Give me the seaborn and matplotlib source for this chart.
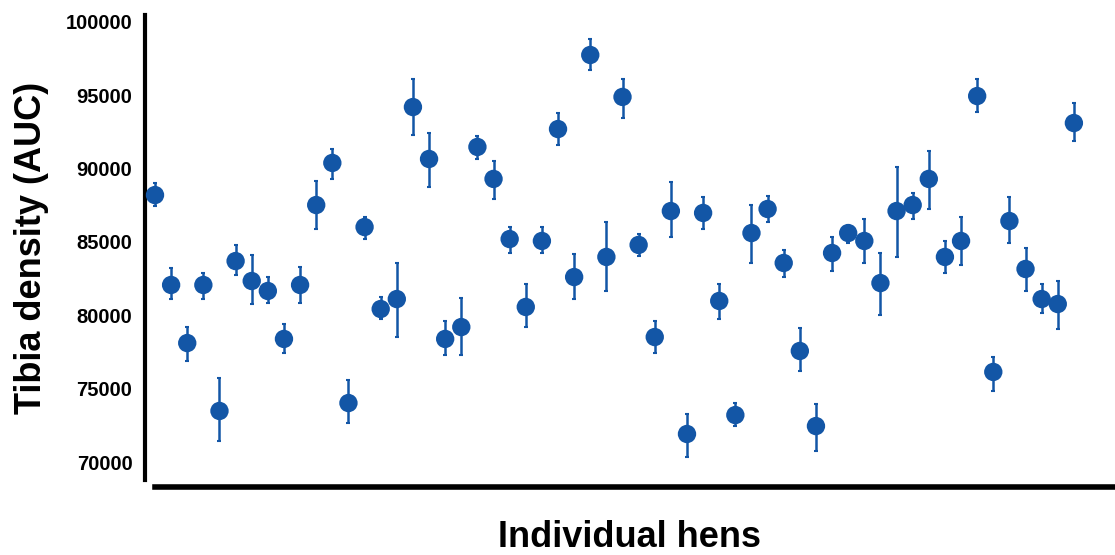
import numpy as np
import pandas as pd
import seaborn as sns
import matplotlib.pyplot as plt

# mean tibia density (AUC) per hen, with lower / upper end of the error bar
density_mean = [88200, 82070, 78110, 82070, 73480, 83700, 82340, 81660, 78390, 82070,
                87520, 90390, 74020, 86020, 80430, 81110, 94200, 90660, 78390, 79200,
                91480, 89300, 85200, 80570, 85070, 92700, 82610, 97750, 83980, 94890,
                84800, 78520, 87110, 71910, 86980, 80980, 73200, 85610, 87250, 83570,
                77570, 72450, 84250, 85610, 85070, 82200, 87110, 87520, 89300, 83980,
                85070, 94950, 76140, 86430, 83160, 81110, 80770, 93110]
density_low = [87450, 81110, 76890, 81110, 71430, 82750, 80770, 80840, 77430, 80840,
               85890, 89300, 72660, 85200, 79750, 78520, 92300, 88750, 77300, 77300,
               90660, 87930, 84250, 79200, 84250, 91610, 81110, 96730, 81660, 93450,
               84050, 77430, 85340, 70340, 85890, 79750, 72450, 83570, 86360, 82610,
               76200, 70750, 83020, 84930, 83570, 80020, 83980, 86570, 87250, 82890,
               83430, 93860, 74840, 84930, 81660, 80160, 79070, 91890]
density_high = [89020, 83230, 79200, 82890, 75730, 84800, 84110, 82610, 79410, 83300,
                89160, 91340, 75590, 86700, 81250, 83570, 96110, 92430, 79610, 81180,
                92230, 90520, 86020, 82140, 86020, 93800, 84180, 98840, 86360, 96110,
                85550, 79610, 89090, 73270, 88070, 82140, 74020, 87520, 88140, 84450,
                79140, 73950, 85340, 86020, 86570, 84250, 90110, 88340, 91200, 85070,
                86700, 96110, 77160, 88070, 84590, 82140, 82340, 94480]
y_ticks = [70000, 75000, 80000, 85000, 90000, 95000, 100000]

df = pd.DataFrame({
    'hen': np.arange(len(density_mean)),
    'mean': density_mean,
    'low': density_low,
    'high': density_high,
})

sns.set_style('white')
plt.rcParams['font.family'] = ['Liberation Sans', 'DejaVu Sans']
plt.rcParams['text.color'] = 'black'
plt.rcParams['axes.labelcolor'] = 'black'
plt.rcParams['ytick.labelcolor'] = 'black'

blue = '#1356a6'

fig = plt.figure(figsize=(11.15, 5.55), dpi=100)
ax = fig.add_axes([145 / 1115, 1 - 480 / 555, 970 / 1115, 465 / 555])

yerr = np.vstack([df['mean'] - df['low'], df['high'] - df['mean']])
ax.errorbar(df['hen'], df['mean'], yerr=yerr, fmt='none', ecolor=blue,
            elinewidth=1.8, capsize=1.5, capthick=1.5, zorder=2)
sns.scatterplot(data=df, x='hen', y='mean', ax=ax, color=blue, s=175,
                edgecolor='none', zorder=3, legend=False)

ax.set_ylim(68773, 100476)
ax.set_xlim(-0.62, 59.55)
ax.set_yticks(y_ticks)
ax.set_yticklabels([str(t) for t in y_ticks], fontsize=14.5, fontweight='semibold')
ax.set_xticks([])
ax.tick_params(axis='y', direction='out', length=5, width=1.2, color='#555555', pad=4)

ax.set_ylabel('Tibia density (AUC)', fontsize=26, fontweight='bold', labelpad=12)
ax.set_xlabel('Individual hens', fontsize=26, fontweight='bold', labelpad=24)

sns.despine(ax=ax)
ax.spines['left'].set_linewidth(3)
ax.spines['left'].set_color('black')
ax.spines['bottom'].set_linewidth(4)
ax.spines['bottom'].set_color('black')
ax.spines['bottom'].set_position(('outward', 5))
ax.spines['bottom'].set_bounds(0, 59.55)

fig.savefig('out.png', dpi=100)
